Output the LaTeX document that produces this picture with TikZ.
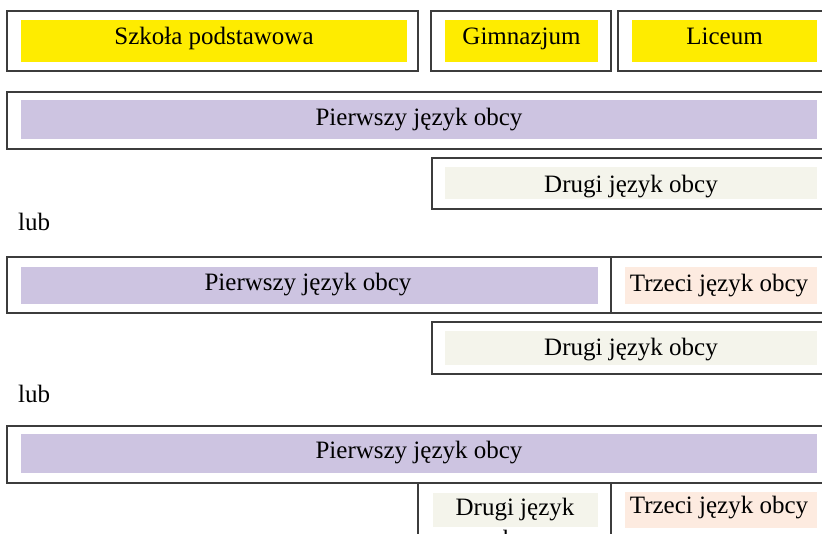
\documentclass[tikz,border=0pt]{standalone}
\usepackage{fontspec}
\setmainfont{Liberation Serif}
\definecolor{yel}{HTML}{FEEC00}
\definecolor{lav}{HTML}{CDC4E1}
\definecolor{beige}{HTML}{F4F4EB}
\definecolor{peach}{HTML}{FDEBE0}
\definecolor{frame}{HTML}{3C3C3C}
\begin{document}
\begin{tikzpicture}[x=1pt,y=-1pt,
  box/.style={draw=frame,line width=1.9pt},
  lbl/.style={anchor=base,inner sep=0pt,font=\fontsize{25}{30}\selectfont}]
\useasboundingbox (0,0) rectangle (822,533);
\clip (0,0) rectangle (822,533);
\fill[white] (0,0) rectangle (822,533);
% ---------- row 1: school levels
\fill[yel] (21,20) rectangle (407,62);
\fill[yel] (445,20) rectangle (598,62);
\fill[yel] (632,20) rectangle (817,62);
\draw[box] (7,11) rectangle (418,71);
\draw[box] (431,11) rectangle (611,71);
\draw[box] (618,11) rectangle (840,71);
\node[lbl] (szk) at (214,44.5) {Szkoła podstawowa};
\node[lbl] (gim) at (521.5,44.5) {Gimnazjum};
\node[lbl] (lic) at (724.5,44.5) {Liceum};
% ---------- variant 1
\fill[lav] (21,100) rectangle (817,139);
\draw[box] (7,92) rectangle (840,149);
\node[lbl] (p1) at (419,125) {Pierwszy język obcy};
\fill[beige] (445,167) rectangle (817,199);
\draw[box] (432,158) rectangle (840,209);
\node[lbl] (d1) at (631,192) {Drugi język obcy};
\node[lbl,anchor=base west] (lub1) at (18,230) {lub};
% ---------- variant 2
\fill[lav] (21,267) rectangle (598,304);
\fill[peach] (625,267) rectangle (817,304);
\draw[box] (7,257) rectangle (611,313);
\draw[box] (611,257) rectangle (840,313);
\node[lbl] (p2) at (308,290) {Pierwszy język obcy};
\node[lbl] (t2) at (719,291) {Trzeci język obcy};
\fill[beige] (445,331) rectangle (817,365);
\draw[box] (432,322) rectangle (840,374);
\node[lbl] (d2) at (631,355) {Drugi język obcy};
\node[lbl,anchor=base west] (lub2) at (18,402) {lub};
% ---------- variant 3
\fill[lav] (21,434) rectangle (817,473);
\draw[box] (7,426) rectangle (840,483);
\node[lbl] (p3) at (419,458) {Pierwszy język obcy};
\fill[beige] (433,493) rectangle (598,527);
\fill[peach] (625,492) rectangle (817,528);
\draw[box] (418,483) rectangle (611,560);
\draw[box] (611,483) rectangle (840,560);
\node[lbl] (d3) at (515,515) {\begin{tabular}[t]{@{}c@{}}Drugi język\\[2pt]obcy\end{tabular}};
\node[lbl] (t3) at (719,513) {Trzeci język obcy};
\end{tikzpicture}
\end{document}
